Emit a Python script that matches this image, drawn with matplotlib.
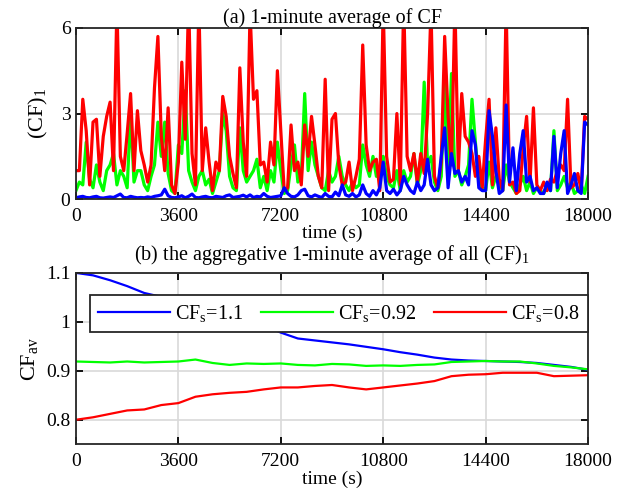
import numpy as np
import matplotlib
matplotlib.use("Agg")
import matplotlib.pyplot as plt

# (a) 1-minute average of CF, one value every 120 s
red = [1.0, 1.0, 3.5, 2.4, 0.5, 2.7, 2.8, 0.8, 2.2, 2.9,
       3.4, 1.0, 6.8, 1.5, 1.0, 2.3, 3.7, 1.0, 3.1, 1.7,
       1.2, 0.6, 1.2, 3.9, 5.7, 2.2, 1.0, 3.2, 0.5, 0.2,
       1.3, 4.8, 2.1, 7.0, 1.6, 0.5, 6.9, 1.0, 2.5, 1.3,
       0.3, 1.3, 1.0, 3.6, 2.9, 1.5, 0.9, 0.4, 4.6, 2.0,
       0.8, 6.6, 3.5, 3.8, 1.2, 1.3, 0.6, 2.0, 1.2, 4.5,
       2.4, 0.3, 0.4, 2.6, 1.0, 1.3, 0.5, 2.6, 1.5, 2.9,
       1.9, 0.8, 0.4, 4.2, 0.3, 2.8, 3.0, 1.2, 0.5, 0.6,
       1.3, 0.3, 0.8, 1.4, 5.4, 1.9, 1.0, 1.3, 1.4, 0.3,
       6.8, 1.5, 0.6, 0.7, 3.0, 0.5, 7.0, 1.5, 1.0, 1.6,
       0.6, 1.6, 0.9, 3.0, 6.7, 0.8, 0.4, 1.3, 5.7, 2.9,
       1.2, 6.9, 1.0, 3.7, 2.2, 2.0, 1.6, 0.8, 1.5, 0.4,
       2.1, 3.5, 0.5, 2.5, 0.7, 0.3, 6.8, 0.5, 0.6, 0.2,
       0.3, 1.8, 2.9, 0.6, 3.2, 0.5, 0.3, 0.6, 0.3, 0.7,
       0.6, 1.0, 1.2, 1.0, 3.5, 0.4, 0.5, 0.9, 0.3, 2.9,
       2.8]
green = [0.3, 0.6, 0.5, 2.0, 0.7, 0.4, 1.2, 0.6, 0.3, 1.0,
         1.2, 1.6, 0.5, 1.0, 0.8, 0.4, 3.0, 0.6, 1.0, 1.0,
         0.5, 0.3, 0.8, 1.2, 2.7, 1.5, 2.7, 0.9, 0.3, 0.2,
         1.9, 1.6, 3.8, 1.0, 0.6, 0.3, 0.8, 1.0, 0.5, 0.7,
         0.2, 0.6, 1.0, 3.0, 2.4, 0.8, 0.4, 0.3, 2.5, 1.0,
         0.6, 0.8, 1.0, 1.4, 0.4, 0.8, 0.3, 1.0, 0.6, 2.0,
         1.0, 0.2, 0.3, 1.2, 1.9, 0.6, 0.8, 3.7, 1.0, 2.0,
         1.2, 0.8, 0.4, 0.3, 1.0, 0.6, 0.8, 1.5, 0.8, 0.5,
         0.3, 0.6, 0.4, 0.5, 1.9, 1.2, 0.8, 1.5, 0.8, 1.0,
         1.5, 0.8, 0.5, 0.4, 1.0, 0.3, 1.0, 0.6, 0.8, 1.6,
         0.5, 1.0, 4.1, 1.2, 1.5, 0.6, 0.3, 0.8, 4.2, 1.0,
         4.4, 0.8, 1.0, 0.5, 0.8, 1.2, 3.5, 2.0, 0.6, 0.4,
         0.3, 1.3, 0.4, 0.8, 0.5, 0.3, 1.2, 0.6, 0.4, 0.2,
         0.5, 0.8, 0.3, 0.6, 0.2, 0.4, 0.3, 0.2, 0.5, 0.3,
         2.4, 0.3, 0.5, 0.8, 0.4, 0.6, 0.2, 0.3, 0.5, 0.2,
         0.8]
blue = [0.05, 0.08, 0.10, 0.06, 0.05, 0.08, 0.10, 0.05, 0.04, 0.06,
        0.08, 0.06, 0.12, 0.18, 0.06, 0.05, 0.10, 0.07, 0.05, 0.06,
        0.05, 0.08, 0.06, 0.10, 0.12, 0.15, 0.35, 0.12, 0.06, 0.05,
        0.08, 0.12, 0.05, 0.10, 0.18, 0.06, 0.05, 0.08, 0.10, 0.06,
        0.05, 0.10, 0.08, 0.06, 0.12, 0.15, 0.06, 0.08, 0.10, 0.14,
        0.08, 0.15, 0.06, 0.10, 0.08, 0.20, 0.10, 0.06, 0.08, 0.10,
        0.12, 0.40, 0.20, 0.10, 0.08, 0.15, 0.30, 0.35, 0.12, 0.08,
        0.15, 0.10, 0.06, 0.20, 0.10, 0.08, 0.25, 0.12, 0.50, 0.15,
        0.10, 0.20, 0.08, 0.15, 0.50, 0.20, 0.10, 0.30, 0.15, 0.40,
        1.30, 0.30, 0.20, 0.35, 0.15, 0.30, 0.80, 0.50, 0.30, 0.20,
        0.6, 0.3, 0.5, 1.4, 0.5, 0.3, 0.4, 1.5, 2.5, 0.4,
        1.6, 0.9, 1.0, 0.6, 0.8, 0.5, 2.4, 1.9, 0.4, 0.3,
        0.3, 3.1, 2.2, 1.0, 0.2, 0.3, 3.3, 0.6, 1.8, 0.3,
        1.6, 2.4, 0.6, 0.8, 0.3, 0.4, 0.2, 0.2, 0.6, 0.3,
        2.2, 0.4, 1.6, 2.4, 0.2, 0.5, 0.9, 0.3, 0.2, 2.7,
        2.6]

# (b) aggregative average, one value every 600 s
agg_blue = [1.100, 1.095, 1.085, 1.073, 1.059, 1.051, 1.042, 1.033, 1.024, 1.015,
            1.005, 0.994, 0.978, 0.966, 0.962, 0.958, 0.954, 0.949, 0.944, 0.938,
            0.933, 0.927, 0.923, 0.921, 0.920, 0.919, 0.918, 0.916, 0.912, 0.908,
            0.902]
agg_green = [0.919, 0.918, 0.917, 0.919, 0.917, 0.918, 0.919, 0.923, 0.916, 0.912,
             0.915, 0.914, 0.915, 0.912, 0.911, 0.914, 0.913, 0.910, 0.911, 0.910,
             0.912, 0.913, 0.918, 0.919, 0.920, 0.919, 0.919, 0.915, 0.910, 0.907,
             0.903]
agg_red = [0.800, 0.805, 0.812, 0.819, 0.821, 0.830, 0.834, 0.847, 0.852, 0.855,
           0.857, 0.862, 0.866, 0.866, 0.869, 0.871, 0.866, 0.862, 0.866, 0.870,
           0.874, 0.879, 0.889, 0.892, 0.893, 0.896, 0.896, 0.896, 0.889, 0.890,
           0.891]
labels = ["CF$_\\mathregular{s}$=1.1", "CF$_\\mathregular{s}$=0.92", "CF$_\\mathregular{s}$=0.8"]
xticks = [0, 3600, 7200, 10800, 14400, 18000]

t1 = np.arange(len(red)) * 120
t2 = np.arange(len(agg_blue)) * 600

plt.rcParams.update({
    "font.family": "Liberation Serif",
    "font.size": 14,
    "mathtext.fontset": "custom",
    "mathtext.rm": "Liberation Serif",
    "mathtext.it": "Liberation Serif:italic",
    "axes.linewidth": 1.3,
    "axes.edgecolor": "#262626",
    "xtick.direction": "in",
    "ytick.direction": "in",
    "xtick.top": True,
    "ytick.right": True,
    "xtick.major.size": 5,
    "ytick.major.size": 5,
    "xtick.major.width": 1.3,
    "ytick.major.width": 1.3,
    "xtick.major.pad": 6,
    "ytick.major.pad": 4,
    "grid.color": "#d9d9d9",
    "grid.linewidth": 1.2,
})

BLUE, GREEN, RED = "#0000ff", "#00ff00", "#ff0000"

fig = plt.figure(figsize=(6.33, 4.98), dpi=100)
ax1 = fig.add_axes([0.120, 0.600, 0.809, 0.344])
ax2 = fig.add_axes([0.120, 0.108, 0.809, 0.344])

ax1.plot(t1, green, color=GREEN, lw=2.3)
ax1.plot(t1, red, color=RED, lw=2.3)
ax1.plot(t1, blue, color=BLUE, lw=2.3)
ax1.set_xlim(0, 18000)
ax1.set_ylim(0, 6)
ax1.set_yticks([0, 3, 6])
ax1.set_xticks(xticks)
ax1.grid(True)
ax1.set_axisbelow(True)
ax1.set_title("(a) 1-minute average of CF", fontsize=14.5, pad=3)
ax1.set_xlabel("time (s)", labelpad=0)
ax1.set_ylabel("(CF)$_\\mathregular{1}$", fontsize=16, labelpad=8)

ax2.plot(t2, agg_blue, color=BLUE, lw=1.6, label=labels[0])
ax2.plot(t2, agg_green, color=GREEN, lw=1.6, label=labels[1])
ax2.plot(t2, agg_red, color=RED, lw=1.6, label=labels[2])
ax2.set_xlim(0, 18000)
ax2.set_ylim(0.75, 1.1)
ax2.set_yticks([0.8, 0.9, 1.0, 1.1])
ax2.set_yticklabels(["0.8", "0.9", "1", "1.1"])
ax2.set_xticks(xticks)
ax2.grid(True)
ax2.set_axisbelow(True)
ax2.set_title("(b) the aggregative 1-minute average of all (CF)$_\\mathregular{1}$",
              fontsize=14.5, pad=9)
ax2.set_xlabel("time (s)", labelpad=1)
ax2.set_ylabel("CF$_\\mathregular{av}$", fontsize=16, labelpad=4)

leg = ax2.legend(loc="upper left", ncol=3, bbox_to_anchor=(0.027, 0.871),
                 frameon=True, fancybox=False, framealpha=1,
                 edgecolor="#262626", handlelength=3.6, borderaxespad=0,
                 fontsize=14.5, columnspacing=0.85, handletextpad=0.25)
leg.get_frame().set_linewidth(1.3)

fig.savefig("out.png", dpi=100)
